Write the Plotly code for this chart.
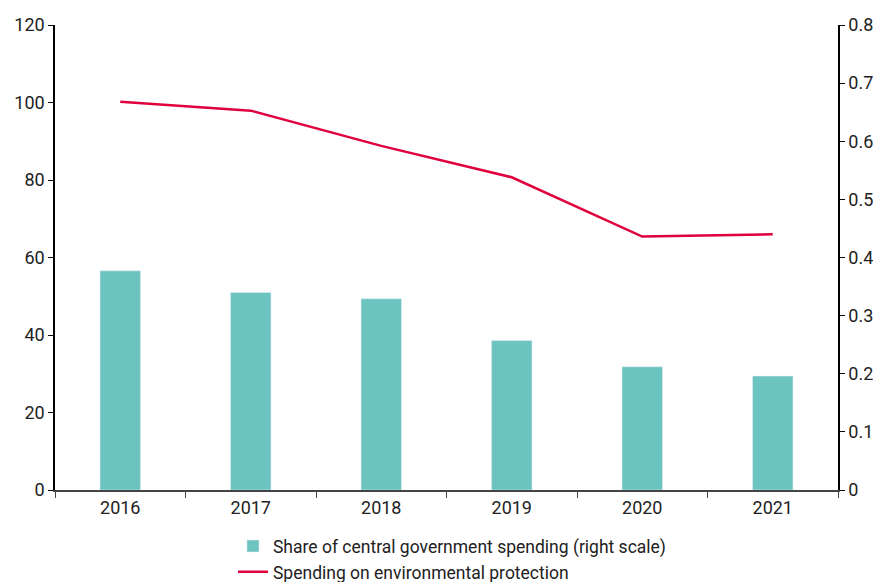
import plotly.graph_objects as go

years = ["2016", "2017", "2018", "2019", "2020", "2021"]
share_right = [0.377, 0.340, 0.329, 0.257, 0.212, 0.196]
spending = [100.2, 97.9, 88.8, 80.7, 65.4, 66.0]

FONT = "Liberation Sans Narrow, Roboto, sans-serif"

fig = go.Figure()
fig.add_trace(go.Bar(
    x=years, y=share_right, yaxis="y2",
    name="Share of central government spending (right scale)",
    marker=dict(color="#6cc4c1"), width=0.31,
))
fig.add_trace(go.Scatter(
    x=years, y=spending, yaxis="y", mode="lines",
    name="Spending on environmental protection",
    line=dict(color="#e0003c", width=2.5),
))

fig.update_layout(
    width=873, height=574,
    margin=dict(l=47, r=43, t=17, b=92, autoexpand=False),
    paper_bgcolor="white", plot_bgcolor="white",
    font=dict(family=FONT, size=18, color="#222"),
    showlegend=True,
    legend=dict(x=0.507, xanchor="center", y=-0.082, yanchor="top",
                orientation="v", font=dict(size=17.5), traceorder="normal",
                itemwidth=30, tracegroupgap=0),
    xaxis=dict(type="category", range=[-0.5, 5.5], tickson="boundaries",
               ticks="outside", ticklen=6, tickcolor="#444",
               showline=True, linecolor="#444", linewidth=2,
               showgrid=False, zeroline=False),
    yaxis=dict(range=[0, 120], tickvals=[0, 20, 40, 60, 80, 100, 120],
               ticks="outside", ticklen=5, tickcolor="black",
               showline=True, linecolor="black", linewidth=1.5,
               showgrid=False, zeroline=False),
    yaxis2=dict(range=[0, 0.8], overlaying="y", side="right",
                tickvals=[0, 0.1, 0.2, 0.3, 0.4, 0.5, 0.6, 0.7, 0.8],
                ticktext=["0", "0.1", "0.2", "0.3", "0.4", "0.5", "0.6", "0.7", "0.8"],
                ticks="outside", ticklen=5, tickcolor="black",
                showline=True, linecolor="black", linewidth=1.5,
                showgrid=False, zeroline=False),
)

fig.write_html("out.html")
